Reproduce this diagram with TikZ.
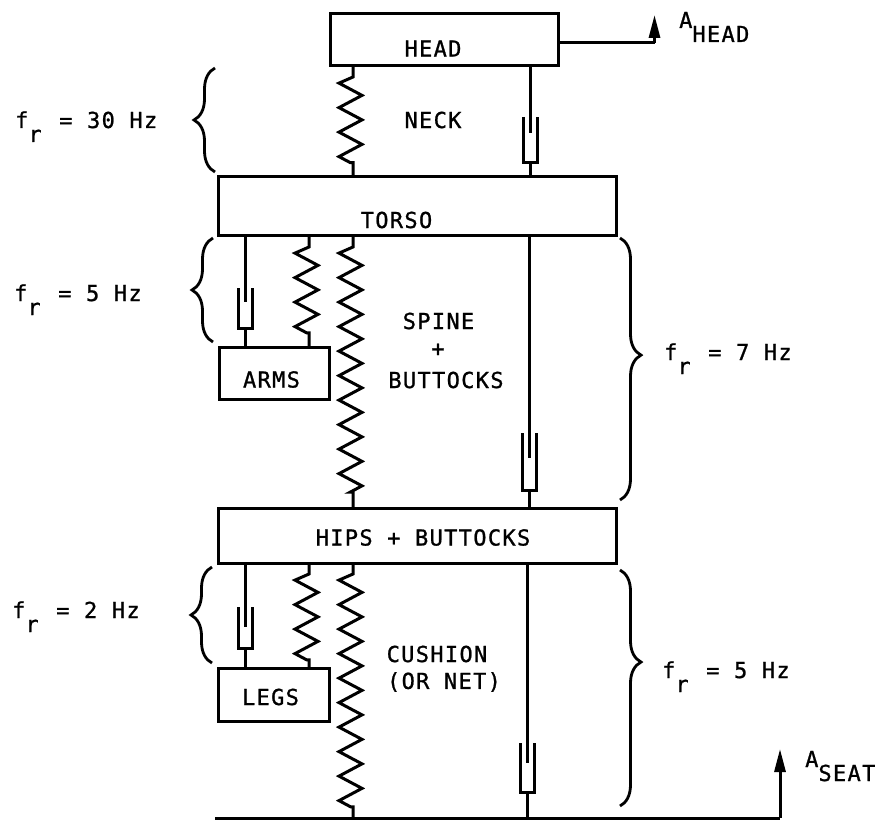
\documentclass[tikz,border=0pt]{standalone}
\usepackage{fontspec}
\usepackage{tikz}
\usetikzlibrary{arrows.meta}
\usetikzlibrary{calc}
\usetikzlibrary{decorations.pathmorphing,decorations.pathreplacing}
\newfontfamily\platefont[LetterSpace=6,FakeBold=1]{DejaVu Sans Mono}
\pgfdeclarelayer{edgelayer}
\pgfdeclarelayer{nodelayer}
\pgfsetlayers{edgelayer,main,nodelayer}
\tikzstyle{none}=[inner sep=0mm,outer sep=0mm]
\tikzstyle{link}=[line width=3pt]
\tikzstyle{mass}=[rectangle,draw=black,line width=3pt,outer sep=0pt,inner sep=0pt]
\tikzstyle{txt}=[inner sep=0pt,font=\fontsize{22}{22}\platefont,align=center]
\tikzstyle{lab}=[txt,anchor=base west]
\tikzstyle{spring}=[link,decorate,decoration={zigzag,mirror,segment length=24.5pt,amplitude=11.5pt,pre length=11pt,post length=8pt,raise=2.5pt}]
\tikzstyle{bracel}=[line width=2.8pt,decorate,decoration={brace,amplitude=21pt,aspect=0.5}]
\tikzstyle{rise}=[link,-{Triangle[length=23pt,width=11pt]}]
\newcommand{\subdrop}[1]{\raisebox{-14pt}{#1}}
\newcommand{\freq}[1]{f\subdrop{r}\kern3pt{} = #1 Hz}
\newcommand{\dashpot}[5]{% top, bottom, cup mouth, rod depth, cup depth
	\draw [style=link] (#1.center) to ($(#3.center)+(0,#4)$);
	\draw [style=link] ($(#3.center)+(-7,0)$) -- ++(0,#5) -- ++(14,0) -- ++(0,-#5);
	\draw [style=link] ($(#3.center)+(0,#5)$) to (#2.center);
}

\begin{document}
\begin{tikzpicture}[x=1pt,y=-1pt]
	\useasboundingbox (0,0) rectangle (881,821);
	\begin{pgfonlayer}{nodelayer}
		\node [style=mass,minimum width=228pt,minimum height=52pt] (head) at (444,40) {};
		\node [style=mass,minimum width=398pt,minimum height=59pt] (torso) at (417,206.5) {};
		\node [style=mass,minimum width=110pt,minimum height=52pt] (arms) at (274,373) {};
		\node [style=mass,minimum width=398pt,minimum height=55pt] (hips) at (417,535.5) {};
		\node [style=mass,minimum width=111pt,minimum height=53pt] (legs) at (273.5,694.5) {};
		\node [style=txt] (headtxt) at (433,48.5) {HEAD};
		\node [style=txt] (necktxt) at (433,120) {NECK};
		\node [style=txt] (torsotxt) at (396.5,220) {TORSO};
		\node [style=txt] (armstxt) at (271.5,379.5) {ARMS};
		\node [style=txt] (spinetxt) at (438.5,321) {SPINE};
		\node [style=txt] (plustxt) at (438,350) {+};
		\node [style=txt] (butttxt) at (446,380) {BUTTOCKS};
		\node [style=txt] (hipstxt) at (423,537.5) {HIPS + BUTTOCKS};
		\node [style=txt] (legstxt) at (270.5,697) {LEGS};
		\node [style=txt] (cushtxt) at (437,654) {CUSHION};
		\node [style=txt] (nettxt) at (444,682) {(OR NET)};
		\node [style=lab] (fneck) at (15,128) {\freq{30}};
		\node [style=lab] (farms) at (14,301) {\freq{5}};
		\node [style=lab] (flegs) at (12,618) {\freq{2}};
		\node [style=lab] (fspine) at (664,360) {\freq{7}};
		\node [style=lab] (fseat) at (662,678) {\freq{5}};
		\node [style=lab] (ahead) at (679,28) {A\subdrop{HEAD}};
		\node [style=lab] (aseat) at (805,767) {A\subdrop{SEAT}};
		\node [style=none] (k1t) at (353,66) {};
		\node [style=none] (k1b) at (353,177) {};
		\node [style=none] (k2t) at (309,236) {};
		\node [style=none] (k2b) at (309,347) {};
		\node [style=none] (k3t) at (353,236) {};
		\node [style=none] (k3b) at (353,508) {};
		\node [style=none] (k4t) at (309,563) {};
		\node [style=none] (k4b) at (309,668) {};
		\node [style=none] (k5t) at (353,563) {};
		\node [style=none] (k5b) at (353,818) {};
		\node [style=none] (d1t) at (530,66) {};
		\node [style=none] (d1c) at (530,117) {};
		\node [style=none] (d1b) at (530,177) {};
		\node [style=none] (d2t) at (245,236) {};
		\node [style=none] (d2c) at (245,288) {};
		\node [style=none] (d2b) at (245,347) {};
		\node [style=none] (d3t) at (529,236) {};
		\node [style=none] (d3c) at (529,433) {};
		\node [style=none] (d3b) at (529,508) {};
		\node [style=none] (d4t) at (245,563) {};
		\node [style=none] (d4c) at (245,607) {};
		\node [style=none] (d4b) at (245,668) {};
		\node [style=none] (d5t) at (527.5,563) {};
		\node [style=none] (d5c) at (527.5,743) {};
		\node [style=none] (d5b) at (527.5,818) {};
		\node [style=none] (hout) at (558,43) {};
		\node [style=none] (hcor) at (654.5,43) {};
		\node [style=none] (htip) at (654.5,15) {};
		\node [style=none] (gndl) at (215,818) {};
		\node [style=none] (gndr) at (780,818) {};
		\node [style=none] (stip) at (780,749) {};
	\end{pgfonlayer}
	\begin{pgfonlayer}{edgelayer}
		\draw [style=spring] (k1t.center) to (k1b.center);
		\draw [style=spring] (k2t.center) to (k2b.center);
		\draw [style=spring] (k3t.center) to (k3b.center);
		\draw [style=spring] (k4t.center) to (k4b.center);
		\draw [style=spring] (k5t.center) to (k5b.center);
		\dashpot{d1t}{d1b}{d1c}{16}{46}
		\dashpot{d2t}{d2b}{d2c}{14}{40}
		\dashpot{d3t}{d3b}{d3c}{25}{57}
		\dashpot{d4t}{d4b}{d4c}{20}{41}
		\dashpot{d5t}{d5b}{d5c}{20}{49}
		\draw [style=link] (gndl.center) to (gndr.center);
		\draw [style=rise] (gndr.center) to (stip.center);
		\draw [style=link] (hout.center) to (hcor.center);
		\draw [style=rise] (hcor.center) to (htip.center);
	\end{pgfonlayer}
	% braces
	\draw [style=bracel] (215,172) to (215,68);
	\draw [style=bracel] (213,342) to (213,238);
	\draw [style=bracel] (212,663) to (212,567);
	\draw [style=bracel,decoration={aspect=0.447}] (620,238) to (620,500);
	\draw [style=bracel,decoration={aspect=0.39}] (620,570) to (620,806);
\end{tikzpicture}
\end{document}
